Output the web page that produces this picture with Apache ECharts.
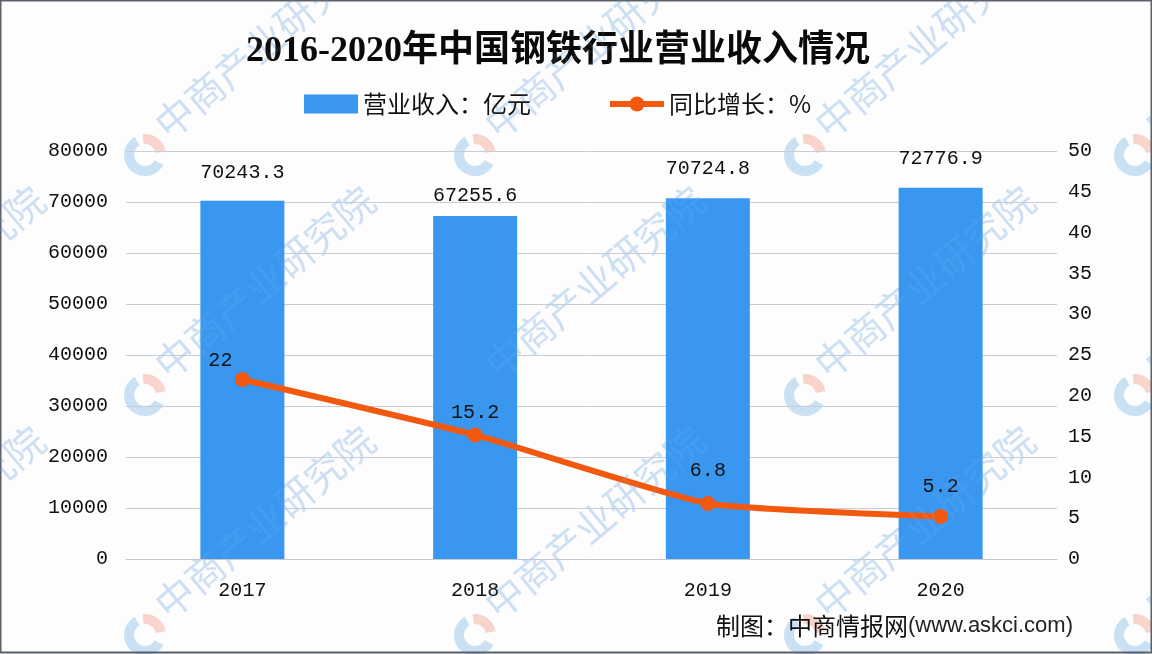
<!DOCTYPE html>
<html>
<head>
<meta charset="utf-8">
<style>
html, body { margin: 0; padding: 0; background: #fff; }
#main { width: 1152px; height: 654px; }
</style>
<script src="https://cdn.jsdelivr.net/npm/echarts@6/dist/echarts.min.js"></script>
</head>
<body>
<div id="main"></div>
<script>
var years = ['2017', '2018', '2019', '2020'];
var revenue = [70243.3, 67255.6, 70724.8, 72776.9];
var growth = [22, 15.2, 6.8, 5.2];
var leftTicks = [0, 10000, 20000, 30000, 40000, 50000, 60000, 70000, 80000];
var rightTicks = [0, 5, 10, 15, 20, 25, 30, 35, 40, 45, 50];

var monoFont = '"Liberation Mono", "Noto Sans CJK SC", monospace';
var cjkFont = '"Noto Sans CJK SC", sans-serif';

// background watermark, repeated like the original tiles
var graphics = [];
var startX = [-170, 160, 490, 820, 1150];
var startY = [130, 370, 610];
startX.forEach(function (x) {
  startY.forEach(function (y) {
    graphics.push({
      type: 'text', x: x, y: y, rotation: 40 * Math.PI / 180, z: 0, silent: true,
      style: {
        text: '中商产业研究院', fill: 'rgba(120,175,225,0.32)',
        font: '39px "Noto Sans CJK SC"', textVerticalAlign: 'middle'
      }
    });
    // same text again, very faint on top of the bars
    graphics.push({
      type: 'text', x: x, y: y, rotation: 40 * Math.PI / 180, z: 10, silent: true,
      style: {
        text: '中商产业研究院', fill: 'rgba(170,205,240,0.1)',
        font: '39px "Noto Sans CJK SC"', textVerticalAlign: 'middle'
      }
    });
    var cx = x - 15, cy = y + 25;
    graphics.push({
      type: 'arc', z: 0, silent: true,
      shape: { cx: cx, cy: cy, r: 16, startAngle: 0.5, endAngle: 4.2 },
      style: { fill: 'none', stroke: 'rgba(140,190,230,0.45)', lineWidth: 10 }
    });
    graphics.push({
      type: 'arc', z: 0, silent: true,
      shape: { cx: cx, cy: cy, r: 16, startAngle: 4.6, endAngle: 6.1 },
      style: { fill: 'none', stroke: 'rgba(240,150,130,0.4)', lineWidth: 10 }
    });
  });
});

// dark frame of the screenshot
graphics.push({
  type: 'rect', z: 1, silent: true,
  shape: { x: 0.5, y: 0.5, width: 1151, height: 652 },
  style: { fill: 'none', stroke: '#5a5f6a', lineWidth: 2 }
});
graphics.push({
  type: 'text', x: 716, y: 626, z: 12,
  style: {
    text: '{a|制图：中商情报网}{b|(www.askci.com)}',
    textVerticalAlign: 'middle',
    rich: {
      a: { fontFamily: cjkFont, fontSize: 24, fill: '#111', color: '#111' },
      b: { fontFamily: '"Liberation Sans"', fontSize: 22, fill: '#222', color: '#222' }
    }
  }
});

// label nudges, in px
var revenueLabelOffset = [[0, -1], [0, 7], [0, -3], [0, -2]];
var growthLabelOffset = [[-22, 4], [0, 0], [0, -10], [0, -7]];

var chart = echarts.init(document.getElementById('main'));
chart.setOption({
  animation: false,
  backgroundColor: '#fdfdfe',
  title: {
    text: '2016-2020年中国钢铁行业营业收入情况',
    left: 553, top: 29, textAlign: 'center',
    textStyle: {
      fontFamily: '"Liberation Serif", "Noto Sans CJK SC", serif',
      fontSize: 36, fontWeight: 'bold', color: '#0a0a0a'
    }
  },
  legend: {
    left: 299, top: 87, itemGap: 76, itemWidth: 54, itemHeight: 19,
    textStyle: { fontFamily: cjkFont, fontSize: 24, color: '#111' },
    data: [
      { name: '营业收入：亿元', icon: 'rect' },
      { name: '同比增长：%', lineStyle: { width: 6 } }
    ]
  },
  grid: { left: 126, right: 95, top: 151, bottom: 95 },
  xAxis: {
    type: 'category',
    data: years,
    axisLine: { lineStyle: { color: '#c4c6d2' } },
    axisTick: { show: false },
    axisLabel: { fontFamily: monoFont, fontSize: 20, color: '#111', margin: 22 }
  },
  yAxis: [{
    type: 'value',
    min: leftTicks[0],
    max: leftTicks[leftTicks.length - 1],
    interval: 10000,
    axisLine: { show: false },
    axisTick: { show: false },
    axisLabel: {
      fontFamily: monoFont, fontSize: 20, color: '#111', margin: 18,
      formatter: function (v) { return String(v); }
    },
    splitLine: { lineStyle: { color: '#c9cbd6', width: 1 } }
  }, {
    type: 'value',
    min: rightTicks[0],
    max: rightTicks[rightTicks.length - 1],
    interval: 5,
    axisLine: { show: false },
    axisTick: { show: false },
    axisLabel: { fontFamily: monoFont, fontSize: 20, color: '#111', margin: 11 },
    splitLine: { show: false }
  }],
  series: [{
    name: '营业收入：亿元',
    type: 'bar',
    barWidth: 84,
    z: 3,
    itemStyle: { color: '#3a97f0' },
    label: {
      show: true, position: 'top', distance: 17,
      fontFamily: monoFont, fontSize: 20, color: '#111',
      formatter: function (p) { return p.value.toFixed(1); }
    },
    data: revenue.map(function (v, i) {
      return { value: v, label: { offset: revenueLabelOffset[i] } };
    })
  }, {
    name: '同比增长：%',
    type: 'line',
    yAxisIndex: 1,
    z: 4,
    smooth: 0.15,
    symbol: 'circle',
    symbolSize: 15,
    lineStyle: { color: '#f2590f', width: 6 },
    itemStyle: { color: '#f2590f' },
    label: {
      show: true, position: 'top',
      fontFamily: monoFont, fontSize: 20, color: '#111'
    },
    data: growth.map(function (v, i) {
      return { value: v, label: { offset: growthLabelOffset[i] } };
    })
  }],
  graphic: { elements: graphics }
});
</script>
</body>
</html>
